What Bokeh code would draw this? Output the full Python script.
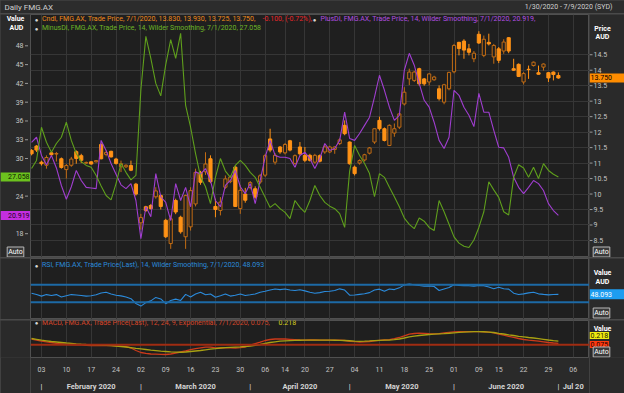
from bokeh.plotting import figure
from bokeh.models import Range1d, LinearAxis, FixedTicker, Label, Span, ColumnDataSource, Grid
from bokeh.layouts import column, row
from bokeh.core.properties import value
from bokeh.embed import file_html
from bokeh.resources import INLINE

# ---------------- data (trading-day index: 0 = 3 Feb 2020) ----------------
day_index = list(range(-2, 105))
open_price = [11.41, 11.55, 11.03, 10.93, 11.33, 11.29, 11.14, 10.79, 10.93, 11.37,
              11.24, 11.00, 11.04, 11.04, 11.60, 11.28, 11.38, 11.13, 10.88, 10.88,
              10.92, 10.32, 9.07, 9.59, 9.63, 9.91, 9.95, 9.15, 8.40, 9.79,
              9.25, 8.62, 8.94, 9.68, 10.70, 10.72, 11.14, 9.60, 9.47, 10.22,
              10.40, 10.87, 9.53, 10.00, 10.21, 10.17, 10.39, 10.61, 11.78, 11.03,
              11.52, 11.33, 11.72, 10.99, 11.52, 11.25, 11.25, 11.03, 11.24, 11.36,
              11.36, 11.44, 11.63, 12.22, 11.68, 10.87, 11.00, 11.10, 11.32, 11.68,
              12.38, 12.11, 11.57, 11.97, 12.16, 12.91, 13.72, 13.67, 14.05, 13.72,
              13.62, 13.69, 13.40, 12.97, 13.40, 13.95, 14.90, 14.94, 14.69, 14.37,
              15.16, 14.48, 14.90, 14.43, 14.69, 14.62, 15.05, 14.05, 14.19, 13.62,
              14.03, 14.15, 13.92, 14.10, 13.92, 13.94, 13.83]
high_price = [11.45, 11.58, 11.08, 11.25, 11.36, 11.36, 11.18, 10.97, 11.20, 11.41,
              11.30, 11.05, 11.06, 11.10, 11.64, 11.40, 11.40, 11.17, 11.08, 10.96,
              11.08, 10.36, 9.36, 9.62, 9.68, 10.22, 9.98, 9.20, 9.31, 9.85,
              9.30, 9.98, 10.22, 10.82, 10.75, 11.35, 11.25, 9.85, 9.90, 10.60,
              10.60, 10.92, 10.28, 10.20, 10.42, 10.25, 10.65, 11.30, 12.11, 11.32,
              11.55, 11.65, 11.75, 11.28, 11.68, 11.52, 11.30, 11.30, 11.28, 11.58,
              11.56, 11.54, 11.80, 12.38, 11.70, 10.92, 11.12, 11.30, 11.52, 12.11,
              12.50, 12.15, 12.25, 12.28, 12.62, 13.45, 14.05, 13.98, 14.08, 13.75,
              13.90, 13.82, 13.51, 13.56, 13.95, 14.85, 14.92, 15.00, 14.85, 14.62,
              15.26, 15.12, 15.18, 14.85, 14.75, 15.00, 15.07, 14.37, 14.22, 13.94,
              14.15, 14.28, 14.15, 14.22, 13.94, 13.96, 13.93]
low_price = [11.25, 11.36, 10.92, 10.82, 11.24, 11.05, 10.82, 10.50, 10.88, 10.98,
             11.00, 10.97, 10.95, 11.02, 11.12, 11.22, 11.18, 10.95, 10.71, 10.84,
             10.74, 9.95, 8.85, 9.42, 9.50, 9.85, 9.50, 8.58, 8.23, 9.35,
             8.72, 8.23, 8.82, 9.60, 10.30, 10.62, 10.35, 9.25, 9.31, 10.17,
             10.35, 9.58, 9.36, 9.72, 10.15, 9.85, 10.33, 10.55, 11.35, 10.95,
             11.30, 11.28, 11.38, 10.95, 11.25, 11.03, 11.05, 10.98, 11.02, 11.30,
             11.32, 11.30, 11.58, 11.90, 10.95, 10.60, 10.95, 11.05, 11.28, 11.62,
             12.05, 11.70, 11.55, 11.85, 12.10, 12.86, 13.52, 13.62, 13.50, 13.50,
             13.51, 13.66, 13.02, 12.90, 13.35, 13.90, 14.48, 14.37, 14.48, 14.26,
             14.85, 14.42, 14.80, 14.21, 14.23, 14.53, 14.55, 13.98, 13.78, 13.54,
             13.72, 14.12, 13.86, 13.99, 13.62, 13.67, 13.725]
close_price = [11.30, 11.42, 10.98, 11.18, 11.27, 11.31, 10.86, 10.92, 11.13, 11.15,
               11.09, 11.02, 10.97, 11.08, 11.14, 11.34, 11.20, 10.99, 10.98, 10.93,
               10.77, 10.00, 9.24, 9.47, 9.53, 10.10, 9.60, 8.62, 9.20, 9.42,
               8.78, 9.95, 10.11, 10.70, 10.38, 10.97, 10.40, 9.50, 9.74, 10.49,
               10.55, 9.60, 10.12, 9.80, 10.37, 9.90, 10.59, 11.24, 11.42, 11.25,
               11.36, 11.60, 11.42, 11.24, 11.30, 11.09, 11.09, 11.25, 11.06, 11.52,
               11.52, 11.52, 11.75, 11.95, 10.98, 10.66, 11.08, 11.27, 11.49, 12.11,
               12.11, 11.73, 12.22, 12.11, 12.59, 13.29, 13.94, 13.94, 13.56, 13.56,
               13.88, 13.78, 13.08, 13.53, 13.93, 14.80, 14.70, 14.65, 14.58, 14.55,
               14.88, 15.00, 14.85, 14.80, 14.32, 14.91, 14.62, 14.00, 13.80, 13.89,
               14.02, 14.26, 13.87, 14.20, 13.75, 13.86, 13.75]
plus_di = [32.6, 33.4, 30.5, 29.0, 30.5, 28.5, 25.7, 23.5, 25.5, 28.1,
           26.5, 25.4, 25.3, 25.2, 32.9, 31.3, 29.2, 27.5, 25.8, 25.2,
           26.0, 23.3, 17.2, 22.3, 20.7, 27.6, 23.9, 23.0, 20.1, 26.0,
           23.3, 25.4, 22.3, 27.9, 27.5, 28.4, 26.5, 23.3, 22.3, 25.7,
           26.5, 28.1, 25.5, 24.4, 26.0, 22.8, 26.5, 30.2, 32.9, 30.5,
           30.2, 30.2, 30.0, 28.6, 30.5, 31.0, 30.0, 28.4, 30.0, 32.4,
           31.3, 31.6, 32.9, 37.4, 33.2, 32.9, 34.0, 35.3, 36.6, 39.8,
           43.3, 40.9, 38.2, 36.1, 36.9, 44.1, 46.8, 44.9, 42.0, 39.3,
           38.2, 35.8, 32.9, 31.6, 33.4, 40.9, 40.1, 38.2, 36.9, 35.1,
           40.4, 37.4, 37.4, 34.5, 31.8, 31.7, 30.2, 27.0, 25.4, 24.4,
           25.4, 26.5, 26.0, 24.9, 22.8, 21.7, 20.919]
minus_di = [28.4, 29.7, 35.0, 32.6, 31.0, 32.4, 33.4, 35.8, 32.9, 30.8,
            29.5, 28.9, 28.6, 27.3, 25.6, 24.1, 23.4, 26.0, 29.2, 27.8,
            26.6, 27.3, 41.0, 49.5, 46.0, 42.0, 40.0, 45.0, 49.0, 46.0,
            50.0, 38.5, 35.0, 30.8, 27.1, 25.5, 22.8, 27.0, 30.0, 28.0,
            27.0, 28.9, 29.7, 28.9, 27.8, 27.0, 25.4, 23.8, 22.2, 22.8,
            22.0, 21.4, 20.4, 23.3, 22.2, 21.4, 23.3, 25.7, 24.1, 23.0,
            22.4, 22.0, 21.2, 19.0, 28.0, 32.1, 30.5, 29.2, 27.6, 23.9,
            27.6, 27.0, 25.4, 23.9, 22.3, 20.5, 19.5, 18.8, 20.5, 20.0,
            19.0, 18.5, 23.3, 21.5, 19.5, 17.5, 16.5, 16.0, 15.8, 17.0,
            19.0, 21.5, 26.3, 25.0, 23.8, 21.5, 21.0, 27.0, 29.0, 28.5,
            27.0, 28.6, 26.8, 29.2, 28.1, 27.5, 27.058]
rsi = [50.7, 47.7, 44.0, 47.5, 45.5, 47.5, 42.0, 45.0, 47.5, 46.5,
       45.5, 44.0, 45.0, 47.0, 51.0, 53.0, 49.0, 46.0, 44.5, 42.0,
       38.0, 27.0, 21.0, 29.0, 33.0, 41.0, 37.5, 26.5, 34.0, 37.0,
       34.0, 48.0, 42.0, 49.0, 53.0, 47.0, 49.0, 41.5, 45.0, 49.0,
       44.0, 46.0, 49.0, 45.5, 47.0, 49.0, 53.0, 55.0, 58.0, 60.5,
       59.0, 60.5, 58.0, 57.0, 58.5, 56.0, 53.0, 50.7, 52.0, 54.5,
       55.3, 57.0, 60.7, 58.0, 46.0, 46.5, 48.0, 49.5, 52.0, 58.0,
       60.0, 55.0, 60.5, 59.0, 63.0, 69.9, 72.0, 70.0, 68.3, 66.8,
       67.5, 66.0, 57.0, 60.5, 64.0, 70.0, 68.5, 68.0, 68.0, 67.0,
       68.3, 68.0, 65.0, 61.0, 64.5, 61.0, 60.0, 50.7, 47.7, 49.2,
       51.5, 53.0, 49.2, 48.0, 46.9, 47.7, 48.093]
macd = [0.34, 0.27, 0.21, 0.17, 0.13, 0.08, 0.05, 0.02, 0.00, -0.01,
        -0.015, -0.04, -0.05, -0.05, -0.04, -0.05, -0.05, -0.07, -0.09, -0.12,
        -0.20, -0.35, -0.47, -0.52, -0.56, -0.57, -0.58, -0.59, -0.56, -0.50,
        -0.44, -0.38, -0.30, -0.24, -0.19, -0.15, -0.15, -0.19, -0.20, -0.19,
        -0.19, -0.20, -0.18, -0.14, -0.03, 0.06, 0.15, 0.25, 0.31, 0.34,
        0.345, 0.34, 0.32, 0.30, 0.28, 0.27, 0.29, 0.28, 0.27, 0.27,
        0.27, 0.27, 0.27, 0.25, 0.20, 0.18, 0.16, 0.17, 0.19, 0.23,
        0.26, 0.28, 0.30, 0.36, 0.43, 0.53, 0.63, 0.67, 0.69, 0.68,
        0.66, 0.65, 0.66, 0.70, 0.74, 0.77, 0.78, 0.78, 0.78, 0.78,
        0.78, 0.77, 0.75, 0.71, 0.64, 0.57, 0.50, 0.44, 0.37, 0.31,
        0.27, 0.24, 0.21, 0.17, 0.13, 0.10, 0.075]
signal = [0.37, 0.32, 0.27, 0.23, 0.19, 0.16, 0.13, 0.10, 0.08, 0.05,
          0.025, 0.01, 0.00, -0.015, -0.03, -0.045, -0.06, -0.085, -0.11, -0.14,
          -0.18, -0.22, -0.25, -0.29, -0.33, -0.36, -0.39, -0.41, -0.43, -0.445,
          -0.455, -0.44, -0.41, -0.38, -0.35, -0.31, -0.27, -0.24, -0.20, -0.18,
          -0.16, -0.145, -0.13, -0.11, -0.09, -0.04, 0.01, 0.07, 0.13, 0.17,
          0.21, 0.23, 0.245, 0.255, 0.265, 0.27, 0.27, 0.27, 0.27, 0.27,
          0.27, 0.265, 0.26, 0.25, 0.235, 0.215, 0.20, 0.21, 0.225, 0.245,
          0.26, 0.27, 0.27, 0.30, 0.34, 0.40, 0.47, 0.51, 0.55, 0.58,
          0.61, 0.635, 0.65, 0.665, 0.685, 0.71, 0.735, 0.755, 0.77, 0.78,
          0.78, 0.775, 0.755, 0.73, 0.68, 0.64, 0.59, 0.55, 0.50, 0.465,
          0.43, 0.40, 0.36, 0.32, 0.28, 0.245, 0.218]

tick_index = [0, 5, 10, 15, 20, 25, 30, 35, 40, 45, 49, 53, 58, 63, 68, 73, 78, 83, 88, 92, 97, 102, 107]
tick_labels = ["03", "10", "17", "24", "02", "09", "16", "23", "30", "06", "14", "20", "27",
               "04", "11", "18", "25", "01", "09", "15", "22", "29", "06"]
month_names = ["February 2020", "March 2020", "April 2020", "May 2020", "June 2020", "Jul 20"]
month_start = [0, 20, 42, 62, 83, 104]
month_end = [20, 42, 62, 83, 104, 110]
price_ticks = [8.5, 9, 9.5, 10, 10.5, 11, 11.5, 12, 12.5, 13, 13.5, 14, 14.5]
di_ticks = [18, 21, 24, 27, 30, 33, 36, 39, 42, 45, 48]

# ---------------- style / layout ----------------
FONT = "Roboto"
FS = "7px"
PLOT_BG = "#1f1f1f"
BORDER_BG = "#2a2a2a"
GRID = "#363636"
OUTLINE = "#505050"
TXT = "#c4c4c4"
FILL_OR = "#ff9216"
HOLLOW_OR = "#c26c14"
PURPLE = "#a03ed0"
GREEN = "#5f9f1c"

L_W, C_W, R_W = 30, 559, 35
HEAD_H, MAIN_H, RSI_H, MACD_H, AXIS_H = 13, 243, 61, 42, 31

XR = Range1d(-2.21, 110.26)
price_range = (7.95, 15.80)
di_range = (14.2, 53.0)
rsi_range = (-9.8, 130.5)
macd_range = (-0.77, 1.45)


def panel(width, height, xr, yr, bg, outline=None, bottom=0):
    f = figure(width=width, height=height, x_range=xr, y_range=yr,
               x_axis_type=None, y_axis_type=None,
               output_backend="svg", toolbar_location=None,
               min_border=0, min_border_left=0, min_border_right=0,
               min_border_top=0, min_border_bottom=bottom,
               background_fill_color=bg, border_fill_color=BORDER_BG,
               outline_line_color=outline)
    return f


def lab(fig, text, x, y, color, size=FS, align="left", bold=False, bg=None, border=None,
        xu="screen", yu="screen", yoff=0, pad=None):
    l = Label(x=x, y=y, x_units=xu, y_units=yu, text=text, text_color=color,
              text_font=FONT, text_font_size=size, text_align=align, text_baseline="middle",
              text_font_style="bold" if bold else "normal", y_offset=yoff)
    if bg is not None:
        l.background_fill_color = bg
    if border is not None:
        l.border_line_color = border
    if pad is not None:
        try:
            l.padding = pad
        except Exception:
            pass
    fig.add_layout(l)
    return l


def auto_button(fig, x, y):
    lab(fig, "Auto", x, y, "#ffffff", align="center", bg="#3a3a3a", border="#b8b8b8", pad=1)


def week_grid(fig):
    fig.add_layout(Grid(dimension=0, ticker=FixedTicker(ticks=tick_index), grid_line_color=GRID))


# ---------------- header ----------------
TOTAL_W = L_W + C_W + R_W
head = panel(TOTAL_W, HEAD_H, Range1d(0, TOTAL_W), Range1d(0, HEAD_H), "#2c2c2c")
lab(head, "Daily FMG.AX", 4, 6.5, "#d0d0d0", size="8px")
lab(head, "1/30/2020 - 7/9/2020 (SYD)", 612, 6.5, "#d0d0d0", align="right")

# ---------------- main panel: candles + DI ----------------
main = panel(C_W, MAIN_H, XR, Range1d(*price_range), PLOT_BG, OUTLINE)
main.extra_y_ranges = {"di": Range1d(*di_range)}
week_grid(main)
main.add_layout(Grid(dimension=1, ticker=FixedTicker(ticks=price_ticks), grid_line_color=GRID))

up = {k: [] for k in ("x", "top", "bottom", "high", "low")}
dn = {k: [] for k in ("x", "top", "bottom", "high", "low")}
for i, o, h, l, c in zip(day_index, open_price, high_price, low_price, close_price):
    d = up if c >= o else dn
    d["x"].append(i)
    d["top"].append(max(o, c))
    d["bottom"].append(min(o, c))
    d["high"].append(h)
    d["low"].append(l)
src_up = ColumnDataSource(up)
src_dn = ColumnDataSource(dn)
main.segment(x0="x", y0="low", x1="x", y1="high", source=src_up, line_color=HOLLOW_OR, line_width=1)
main.segment(x0="x", y0="low", x1="x", y1="high", source=src_dn, line_color=FILL_OR, line_width=1)
main.vbar(x="x", width=0.64, top="top", bottom="bottom", source=src_up,
          fill_color=PLOT_BG, line_color=HOLLOW_OR, line_width=1)
main.vbar(x="x", width=0.64, top="top", bottom="bottom", source=src_dn,
          fill_color=FILL_OR, line_color=FILL_OR, line_width=1)
main.line(day_index, plus_di, y_range_name="di", line_color=PURPLE, line_width=1.1)
main.line(day_index, minus_di, y_range_name="di", line_color=GREEN, line_width=1.1)

ROW1, ROW2 = 238.5, 229.5
lab(main, "\u25cf", 6, ROW1, "#d8d8d8", size="6px", align="center")
lab(main, "Cndl, FMG.AX, Trade Price, 7/1/2020, 13.830, 13.930, 13.725, 13.750,", 11.5, ROW1, "#ee8a1c")
lab(main, "-0.100, (-0.72%),", 232, ROW1, "#e8262a")
lab(main, "\u25cf", 284, ROW1, "#d8d8d8", size="6px", align="center")
lab(main, "PlusDI, FMG.AX, Trade Price,  14, Wilder Smoothing,  7/1/2020, 20.919,", 290, ROW1, "#b24ee2")
lab(main, "\u25cf", 6, ROW2, "#d8d8d8", size="6px", align="center")
lab(main, "MinusDI, FMG.AX, Trade Price,  14, Wilder Smoothing,  7/1/2020, 27.058", 11.5, ROW2, "#6db626")

# left strip (DI scale)
main_l = panel(L_W, MAIN_H, Range1d(0, L_W), Range1d(*di_range), BORDER_BG)
main_l.text(x=23, y=di_ticks, text=[str(t) for t in di_ticks], text_align="right",
            text_baseline="middle", text_font=value(FONT), text_font_size="7px", text_color=TXT)
main_l.segment(x0=24.5, x1=27.5, y0=di_ticks, y1=di_ticks, line_color="#9a9a9a", line_width=1)
lab(main_l, "Value", 15, ROW1, "#ffffff", align="center", bold=True)
lab(main_l, "AUD", 16, ROW2, "#ffffff", align="center", bold=True)
main_l.rect(x=15, y=[minus_di[-1]], width=30, height=9, height_units="screen",
            fill_color="#6cc21e", line_color=None)
lab(main_l, f"{minus_di[-1]:.3f}", 29, minus_di[-1], "#0c1a00", yu="data", align="right")
main_l.rect(x=15, y=[plus_di[-1]], width=30, height=9, height_units="screen",
            fill_color="#c42ee0", line_color=None)
lab(main_l, f"{plus_di[-1]:.3f}", 29, plus_di[-1], "#1a001a", yu="data", align="right")
auto_button(main_l, 15, 5.5)

# right strip (price scale)
main_r = panel(R_W, MAIN_H, Range1d(0, R_W), Range1d(*price_range), BORDER_BG)
main_r.segment(x0=0, x1=3, y0=price_ticks, y1=price_ticks, line_color="#9a9a9a", line_width=1)
main_r.text(x=4, y=price_ticks, text=[f"{t:g}" for t in price_ticks], text_align="left",
            text_baseline="middle", text_font=value(FONT), text_font_size="7px", text_color=TXT)
lab(main_r, "Price", 13, 228.5, "#ffffff", align="center", bold=True)
lab(main_r, "AUD", 13, 220.5, "#ffffff", align="center", bold=True)
main_r.rect(x=17.5, y=[close_price[-1]], width=35, height=9, height_units="screen",
            fill_color="#ff8c00", line_color=None)
lab(main_r, f"{close_price[-1]:.3f}", 1, close_price[-1], "#000000", yu="data")
auto_button(main_r, 12, 5.5)

# ---------------- RSI panel ----------------
rsi_c = panel(C_W, RSI_H, XR, Range1d(*rsi_range), PLOT_BG, OUTLINE)
week_grid(rsi_c)
rsi_c.add_layout(Span(location=70, dimension="width", line_color="#1d6aa6", line_width=2))
rsi_c.add_layout(Span(location=30, dimension="width", line_color="#1d6aa6", line_width=2))
rsi_c.line(day_index, rsi, line_color="#2b8bdc", line_width=1.1)
lab(rsi_c, "\u25cf", 6, 54.5, "#d8d8d8", size="6px", align="center")
lab(rsi_c, "RSI, FMG.AX, Trade Price(Last),  14, Wilder Smoothing,  7/1/2020, 48.093", 11.5, 54.5, "#2b8bdc")

rsi_l = panel(L_W, RSI_H, Range1d(0, L_W), Range1d(*rsi_range), BORDER_BG)
rsi_r = panel(R_W, RSI_H, Range1d(0, R_W), Range1d(*rsi_range), BORDER_BG)
lab(rsi_r, "Value", 13, 47, "#ffffff", align="center", bold=True)
lab(rsi_r, "AUD", 13, 37.5, "#ffffff", align="center", bold=True)
rsi_r.rect(x=17.5, y=[rsi[-1]], width=35, height=10, height_units="screen",
           fill_color="#1e9df0", line_color=None)
lab(rsi_r, f"{rsi[-1]:.3f}", 1, rsi[-1], "#ffffff", yu="data")
auto_button(rsi_r, 12, 6.5)

# ---------------- MACD panel + date axes ----------------
macd_c = panel(C_W, MACD_H + AXIS_H, XR, Range1d(*macd_range), PLOT_BG, OUTLINE, bottom=AXIS_H)
week_grid(macd_c)
macd_c.add_layout(Span(location=0, dimension="width", line_color="#a02c12", line_width=2))
macd_c.line(day_index, macd, line_color="#cc3a1a", line_width=1.3)
macd_c.line(day_index, signal, line_color="#a8a012", line_width=1.3)
lab(macd_c, "\u25cf", 6, 35, "#d8d8d8", size="6px", align="center")
lab(macd_c, "MACD, FMG.AX, Trade Price(Last),  12, 24, 9, Exponential,  7/1/2020, 0.075,", 11.5, 35, "#d8462a")
lab(macd_c, "0.218", 248, 35, "#d6d21e")

ax_days = LinearAxis(ticker=FixedTicker(ticks=tick_index),
                     major_label_overrides={t: s for t, s in zip(tick_index, tick_labels)})
ax_days.major_label_text_font = FONT
ax_days.major_label_text_font_size = "7px"
ax_days.major_label_text_color = TXT
ax_days.axis_line_color = None
ax_days.major_tick_line_color = None
ax_days.minor_tick_line_color = None
ax_days.major_label_standoff = 3
macd_c.add_layout(ax_days, "below")

month_ticks = []
month_over = {}
for name, s, e in zip(month_names, month_start, month_end):
    month_ticks.append(s)
    month_over[s] = "|"
    mid = (s + e) / 2
    month_ticks.append(mid)
    month_over[mid] = name
ax_months = LinearAxis(ticker=FixedTicker(ticks=month_ticks), major_label_overrides=month_over)
ax_months.major_label_text_font = FONT
ax_months.major_label_text_font_size = "7.5px"
ax_months.major_label_text_font_style = "bold"
ax_months.major_label_text_color = "#d4d4d4"
ax_months.axis_line_color = None
ax_months.major_tick_line_color = None
ax_months.minor_tick_line_color = None
ax_months.major_label_standoff = 1
macd_c.add_layout(ax_months, "below")

# side strips of the MACD row share the MACD frame (row aligns plot frames)
macd_l = panel(L_W, MACD_H + AXIS_H, Range1d(0, L_W), Range1d(*macd_range), BORDER_BG, bottom=AXIS_H)
macd_r = panel(R_W, MACD_H + AXIS_H, Range1d(0, R_W), Range1d(*macd_range), BORDER_BG, bottom=AXIS_H)
lab(macd_r, "Value", 13, 29, "#ffffff", align="center", bold=True)
lab(macd_r, f"{signal[-1]:.3f}", 0, signal[-1], "#202000", yu="data", bg="#eeea10", yoff=5.5, pad=1)
lab(macd_r, f"{macd[-1]:.3f}", 0, macd[-1], "#200000", yu="data", bg="#ff3a10", yoff=-1, pad=1)
auto_button(macd_r, 12, 5.5)

p = column(head,
           row(main_l, main, main_r),
           row(rsi_l, rsi_c, rsi_r),
           row(macd_l, macd_c, macd_r),
           spacing=1, styles={"background-color": "#4a4a4a"})

open("out.html", "w").write(file_html(p, INLINE))
